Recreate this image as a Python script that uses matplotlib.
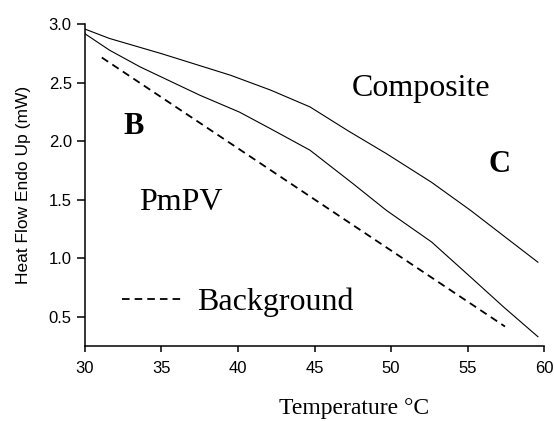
import matplotlib
matplotlib.use("Agg")
import matplotlib.pyplot as plt

# composite curve (upper solid line)
comp_t = [30.0, 31.6, 35.0, 39.5, 42.1, 44.7, 47.2, 49.7, 52.65, 55.2, 57.6, 59.6]
comp_hf = [2.96, 2.88, 2.75, 2.566, 2.44, 2.295, 2.09, 1.895, 1.65, 1.41, 1.168, 0.967]

# PmPV curve (lower solid line)
pmpv_t = [30.0, 31.6, 33.6, 37.5, 40.1, 42.1, 44.7, 47.5, 49.7, 52.65, 55.2, 57.35, 59.6]
pmpv_hf = [2.92, 2.78, 2.637, 2.395, 2.25, 2.11, 1.925, 1.64, 1.41, 1.14, 0.84, 0.585, 0.33]

# background baseline (dashed)
bg_t = [31.1, 57.45]
bg_hf = [2.717, 0.417]

xticks = [30, 35, 40, 45, 50, 55, 60]
yticks = [0.5, 1.0, 1.5, 2.0, 2.5, 3.0]

fig = plt.figure(figsize=(5.54, 4.21), dpi=100)
ax = fig.add_axes([0.1534, 0.178, 0.8286, 0.764])

ax.plot(comp_t, comp_hf, color='black', lw=0.8)
ax.plot(pmpv_t, pmpv_hf, color='black', lw=0.8)
ax.plot(bg_t, bg_hf, color='black', lw=1.3, dashes=(4.2, 2.8), label='Background')

ax.set_xlim(30, 60)
ax.set_ylim(0.25, 3.0)
ax.set_xticks(xticks)
ax.set_yticks(yticks)
ax.set_xticklabels([str(t) for t in xticks], family='Liberation Sans', fontsize=12)
ax.set_yticklabels(['%.1f' % v for v in yticks], family='Liberation Sans', fontsize=12)
ax.tick_params(axis='y', direction='out', length=6, width=1.1, pad=3.5)
ax.tick_params(axis='x', direction='out', length=4, width=1.1, pad=7)
for s in ['top', 'right']:
    ax.spines[s].set_visible(False)
for s in ['left', 'bottom']:
    ax.spines[s].set_linewidth(1.1)

ax.set_ylabel('Heat Flow Endo Up (mW)', family='Liberation Sans', fontsize=12.5, labelpad=13)

serif = 'Liberation Serif'
ax.text(0.732, 0.80, 'Composite', transform=ax.transAxes, family=serif, fontsize=23,
        ha='center', va='center')
ax.text(0.107, 0.684, 'B', transform=ax.transAxes, family=serif, fontsize=22,
        fontweight='bold', ha='center', va='center')
ax.text(0.904, 0.566, 'C', transform=ax.transAxes, family=serif, fontsize=22,
        fontweight='bold', ha='center', va='center')
ax.text(0.209, 0.445, 'PmPV', transform=ax.transAxes, family=serif, fontsize=23,
        ha='center', va='center')

leg = ax.legend(loc='center left', bbox_to_anchor=(0.08, 0.135), frameon=False,
                prop={'family': serif, 'size': 23}, handlelength=1.85,
                handletextpad=0.5, borderpad=0, borderaxespad=0)

fig.text(0.639, 0.029, 'Temperature \u00b0C', family=serif, fontsize=17,
         ha='center', va='center')

fig.savefig('out.png', dpi=100)
